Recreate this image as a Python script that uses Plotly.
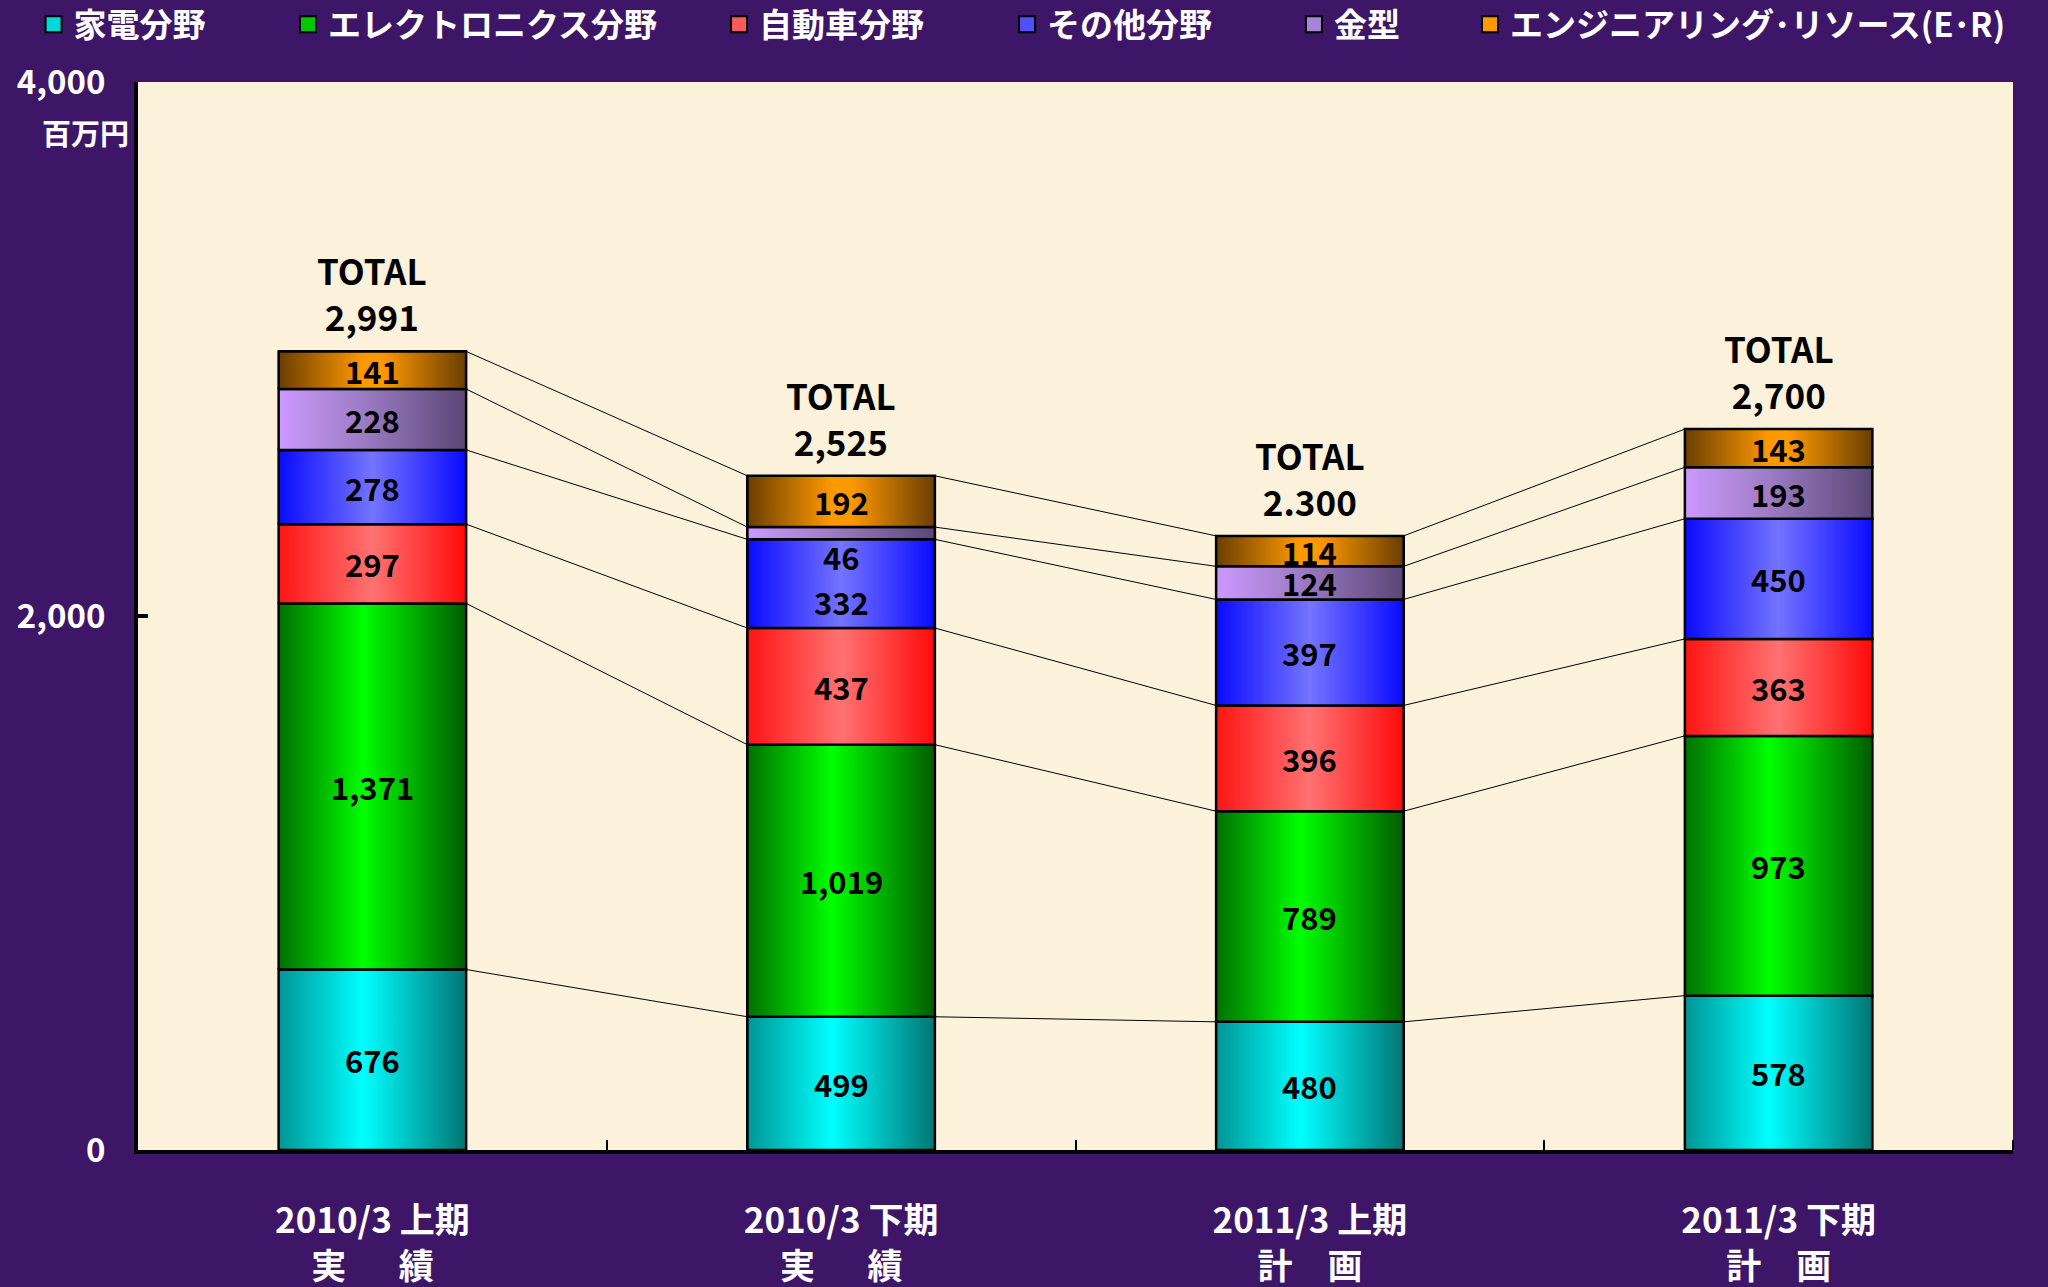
import numpy as np
import plotly.graph_objects as go

# data (百万円)
periods = ["2010/3 上期<br>実\u3000\u2002績", "2010/3 下期<br>実\u3000\u2002績",
           "2011/3 上期<br>計\u3000画", "2011/3 下期<br>計\u3000画"]
series_names = ["家電分野", "エレクトロニクス分野", "自動車分野", "その他分野", "金型",
                "エンジニアリング･リソース(E･R)"]
kaden = [676, 499, 480, 578]
electronics = [1371, 1019, 789, 973]
jidosha = [297, 437, 396, 363]
sonota = [278, 332, 397, 450]
kanagata = [228, 46, 124, 193]
er = [141, 192, 114, 143]
total_text = ["2,991", "2,525", "2.300", "2,700"]
y_ticks = [0, 2000, 4000]
y_ticktext = ["0", "2,000", "4,000"]

series = [kaden, electronics, jidosha, sonota, kanagata, er]

# colours: solid for legend swatches, gradient (left -> right) for the bars
swatch = ["#00d8d8", "#00c800", "#ff5a5a", "#5050ff", "#a585d5", "#ff9900"]
grads = [
    [[0, "#009595"], [0.45, "#00ffff"], [1, "#007575"]],
    [[0, "#007000"], [0.45, "#00ff00"], [1, "#005c00"]],
    [[0, "#ff1414"], [0.5, "#ff7272"], [1, "#ff0a0a"]],
    [[0, "#0a0aff"], [0.5, "#7474ff"], [1, "#0a0aff"]],
    [[0, "#cc99ff"], [0.45, "#9c7cc4"], [1, "#5a4676"]],
    [[0, "#6a3e00"], [0.45, "#ff9900"], [0.55, "#ff9900"], [1, "#6a3e00"]],
]
# left edge of each legend entry (paper x)
legend_x = [-0.0557, 0.0800, 0.3099, 0.4635, 0.6165, 0.7104]

FONT = "Noto Sans CJK JP"
W = 0.4
xs = np.arange(len(periods))
tops = np.cumsum(np.array(series, dtype=float), axis=0)
bottoms = tops - np.array(series, dtype=float)

fig = go.Figure()

# stacked bars
for k, name in enumerate(series_names):
    fig.add_trace(go.Bar(x=xs, y=series[k], width=W, name=name, showlegend=False,
                         marker=dict(color=swatch[k], line=dict(color="black", width=2))))

# gradient overlay for every segment
for k in range(len(series)):
    for i in xs:
        x0, x1 = i - W / 2, i + W / 2
        b, t = bottoms[k][i], tops[k][i]
        fig.add_trace(go.Scatter(
            x=[x0, x1, x1, x0, x0], y=[b, b, t, t, b], mode="lines",
            fill="toself", fillgradient=dict(type="horizontal", colorscale=grads[k]),
            line=dict(color="black", width=2.5), showlegend=False, hoverinfo="skip"))

# connector lines between the cumulative tops of adjacent bars
lx, ly = [], []
for k in range(len(series)):
    for i in range(len(xs) - 1):
        lx += [xs[i] + W / 2, xs[i + 1] - W / 2, None]
        ly += [tops[k][i], tops[k][i + 1], None]
fig.add_trace(go.Scatter(x=lx, y=ly, mode="lines", line=dict(color="black", width=1),
                         showlegend=False, hoverinfo="skip"))

# legend entries, each in its own legend box so they sit where the original has them
legend_layouts = {}
for k, name in enumerate(series_names):
    lg = "legend" if k == 0 else f"legend{k + 1}"
    fig.add_trace(go.Scatter(x=[None], y=[None], mode="markers", name=name, legend=lg,
                             marker=dict(symbol="square", size=16, color=swatch[k],
                                         line=dict(color="black", width=2))))
    legend_layouts[lg] = dict(orientation="h", x=legend_x[k], y=1.054, xanchor="left",
                              yanchor="middle", bgcolor="rgba(0,0,0,0)", itemwidth=30,
                              font=dict(family=FONT, size=33, color="white", weight="bold"))

# segment value labels
for k in range(len(series)):
    for i in xs:
        v = series[k][i]
        ymid = (bottoms[k][i] + tops[k][i]) / 2
        if k == 4 and v < 80:  # thin 金型 slice: label sits in the blue block
            ymid = tops[3][i] - 64
        elif k == 3 and series[4][i] < 80:
            ymid -= 65
        fig.add_annotation(x=i, y=ymid, text=f"{v:,}", showarrow=False,
                           font=dict(family=FONT, size=31, color="black", weight="bold"))

# totals
for i in xs:
    fig.add_annotation(x=i, y=tops[-1][i], text=f"TOTAL<br>{total_text[i]}", showarrow=False,
                       yanchor="bottom", yshift=8,
                       font=dict(family=FONT, size=35, color="black", weight="bold"))

fig.add_annotation(xref="paper", yref="paper", x=-0.028, y=0.953, xanchor="center",
                   yanchor="middle", text="百万円", showarrow=False,
                   font=dict(family=FONT, size=29, color="white", weight="bold"))

fig.update_layout(
    width=2048, height=1287,
    barmode="stack",
    paper_bgcolor="#3e1668", plot_bgcolor="#fcf1da",
    margin=dict(l=138, r=35, t=82, b=137, autoexpand=False),
    font=dict(family=FONT, color="white", weight="bold"),
    xaxis=dict(range=[-0.5, 3.5], tickvals=list(xs), ticktext=periods, ticks="",
               showgrid=False, zeroline=False, showline=True, linecolor="black", linewidth=4,
               ticklabelstandoff=37, tickfont=dict(family=FONT, size=35, color="white"),
               minor=dict(tickvals=[0.5, 1.5, 2.5, 3.5], ticks="inside", ticklen=10,
                          tickwidth=2, tickcolor="black", showgrid=False)),
    yaxis=dict(range=[0, 4000], tickvals=y_ticks, ticktext=y_ticktext, ticks="inside",
               ticklen=10, tickwidth=4, tickcolor="black", showgrid=False, zeroline=False,
               showline=True, linecolor="black", linewidth=4, ticklabelstandoff=22,
               tickfont=dict(family=FONT, size=33, color="white")),
    hovermode=False,
    **legend_layouts,
)

fig.write_html("out.html", config={"displayModeBar": False},
               post_script="document.body.style.margin='0';")
